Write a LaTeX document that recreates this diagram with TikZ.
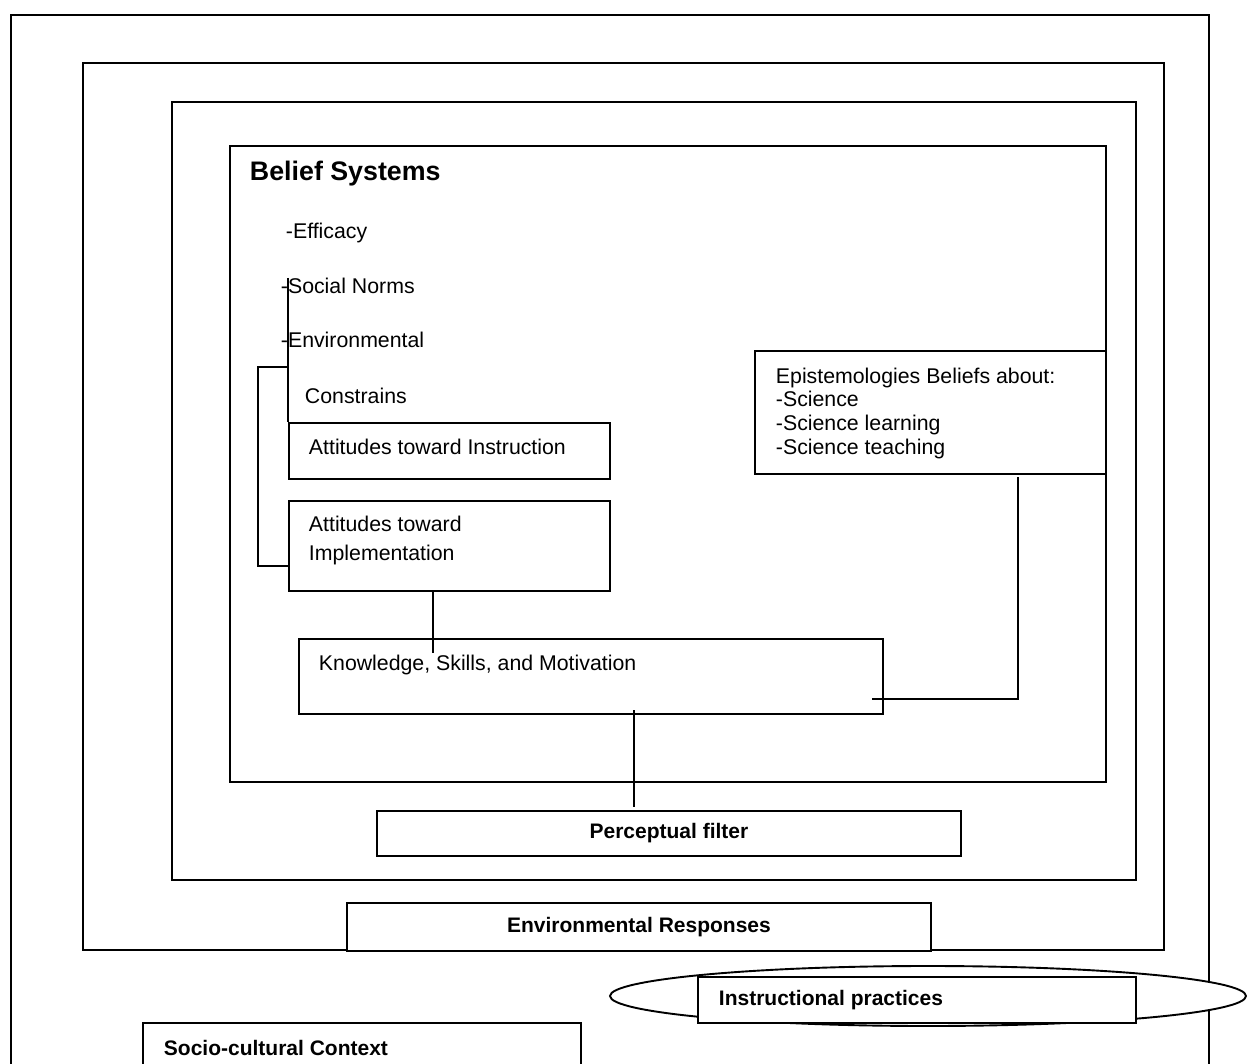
\documentclass[tikz,border=0pt]{standalone}
\usepackage{fontspec}
\setmainfont{Liberation Sans}
\usetikzlibrary{shapes.geometric}
\begin{document}
\begin{tikzpicture}[x=1pt,y=-1pt, line width=1.9pt,
  box/.style={draw, line width=1.9pt, rectangle, inner sep=0pt, anchor=north west},
  txt/.style={anchor=base west, inner sep=0pt, font=\fontsize{21.3}{24}\selectfont},
  btxt/.style={anchor=base west, inner sep=0pt, font=\fontsize{21}{24}\selectfont\bfseries},
  conn/.style={draw, line width=1.9pt}]
\useasboundingbox (0,0) rectangle (1247,1064);
\clip (0,0) rectangle (1247,1064);

% nested frames
\node[box, minimum width=1198, minimum height=1080] (outer) at (10,14) {};
\node[box, minimum width=1081, minimum height=887] (envframe) at (82,62) {};
\node[box, minimum width=964, minimum height=778] (percframe) at (171,101) {};
\node[box, minimum width=876, minimum height=636] (belief) at (229,145) {};

% belief system texts
\node[txt, font=\fontsize{26.8}{30}\selectfont\bfseries] (bs) at (249,181) {Belief Systems};
\node[txt] (eff) at (285,239) {-Efficacy};
\node[txt] (sn) at (280,294) {-Social Norms};
\node[txt] (envc) at (280,348) {-Environmental};
\node[txt] (con) at (304,403) {Constrains};

% attitude boxes
\node[box, minimum width=321, minimum height=56] (ins) at (288,422) {};
\node[txt] (inst) at (308,454) {Attitudes toward Instruction};
\node[box, minimum width=321, minimum height=90] (imp) at (288,500) {};
\node[txt] (impt1) at (308,531) {Attitudes toward};
\node[txt] (impt2) at (308,560) {Implementation};

% knowledge box
\node[box, minimum width=584, minimum height=75] (ksm) at (298,638) {};
\node[txt] (ksmt) at (318,670) {Knowledge, Skills, and Motivation};

% epistemologies
\node[box, minimum width=351, minimum height=123] (epi) at (754,350) {};
\node[txt] (epi1) at (775,384) {Epistemologies Beliefs about:};
\node[txt] (epi2) at (775,406) {-Science};
\node[txt] (epi3) at (775,430) {-Science learning};
\node[txt] (epi4) at (775,454) {-Science teaching};

% perceptual filter
\node[box, fill=white, minimum width=584, minimum height=45] (pf) at (376,810) {};
\node[btxt, anchor=center] (pft) at (pf.center) {Perceptual filter};

% environmental responses
\node[box, fill=white, minimum width=584, minimum height=48] (er) at (346,902) {};
\node[btxt, anchor=center] (ert) at (er.center) {Environmental Responses};

% instructional practices
\node[draw, ellipse, fill=white, line width=1.9pt, inner sep=0pt, minimum width=636, minimum height=60] (ell) at (928,996) {};
\node[box, fill=white, minimum width=438, minimum height=46] (ip) at (697,976) {};
\node[btxt] (ipt) at (718,1005) {Instructional practices};

% socio-cultural context
\node[box, minimum width=438, minimum height=70] (sc) at (142,1022) {};
\node[btxt] (sct) at (163,1055) {Socio-cultural Context};

% connectors
\coordinate (vtop) at (288,278);
\draw[conn] (vtop) -- (ins.north west);
\coordinate (bj) at (288,367);
\coordinate (bb) at (288,566);
\draw[conn] (bj) -- ++(-30,0) |- (bb);
\coordinate (kin) at (433,653);
\draw[conn] (kin |- imp.south) -- (kin);
\coordinate (pfk) at (634,710);
\draw[conn] (pfk) -- ([yshift=3pt]pfk |- pf.north);
\coordinate (etop) at (1018,477);
\coordinate (ein) at (872,699);
\draw[conn] (etop) |- (ein);
\end{tikzpicture}
\end{document}
